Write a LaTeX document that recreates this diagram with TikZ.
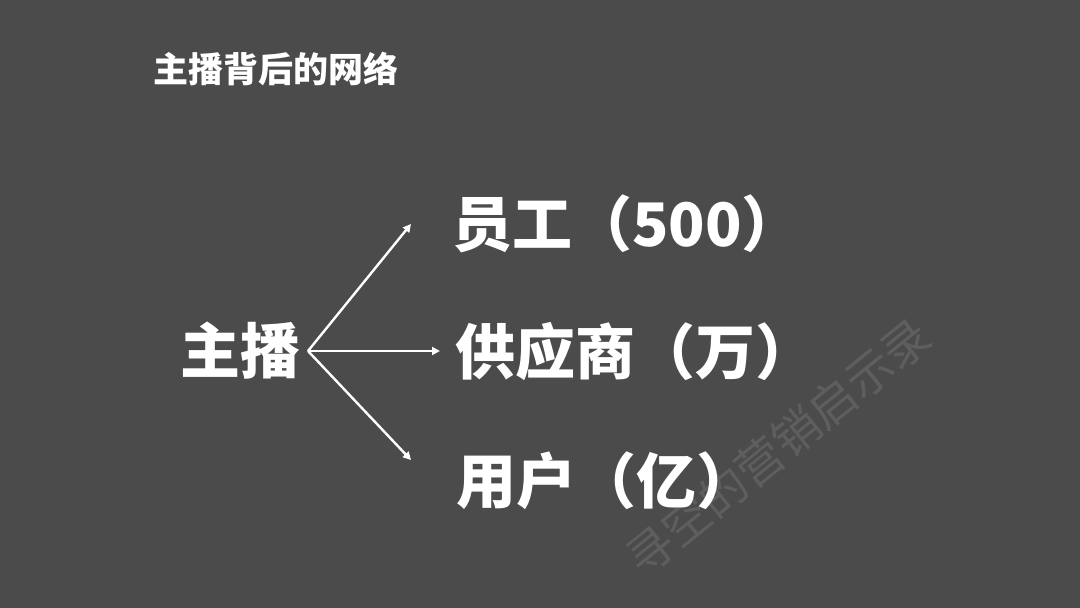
\documentclass[tikz,border=0pt]{standalone}
\usepackage{fontspec}
\newfontfamily\cjk{Noto Sans CJK SC}
\usetikzlibrary{arrows.meta}
\definecolor{bg}{HTML}{4B4B4B}
\definecolor{wmc}{HTML}{5E5E5E}
\tikzset{
  lbl/.style={text=white, font=\cjk\bfseries\fontsize{60}{60}\selectfont, inner sep=0pt, anchor=west},
  arr/.style={draw=white, line width=2.4pt, -{Triangle[length=8pt,width=8pt]}}
}
\begin{document}
\begin{tikzpicture}[x=1pt,y=-1pt]
\path[fill=bg] (0,0) rectangle (1080,608);
\node[text=wmc, font=\cjk\fontsize{47}{47}\selectfont, rotate=39, inner sep=0pt] (wm) at (778,447) {寻空的营销启示录};
\node[text=white, font=\cjk\bfseries\fontsize{35}{35}\selectfont, inner sep=0pt, anchor=west] (title) at (153,69) {主播背后的网络};
\node[lbl] (src) at (180,351) {主播};
\node[lbl] (emp) at (452,224) {员工（500）};
\node[lbl] (sup) at (455,352) {供应商（万）};
\node[lbl] (usr) at (456,481) {用户（亿）};
\coordinate (o) at (308,351);
\coordinate (ta) at (411,224);
\coordinate (tb) at (440,351);
\coordinate (tc) at (411,460);
\draw[arr] (o) -- (ta);
\draw[arr] (o) -- (tb);
\draw[arr] (o) -- (tc);
\end{tikzpicture}
\end{document}
